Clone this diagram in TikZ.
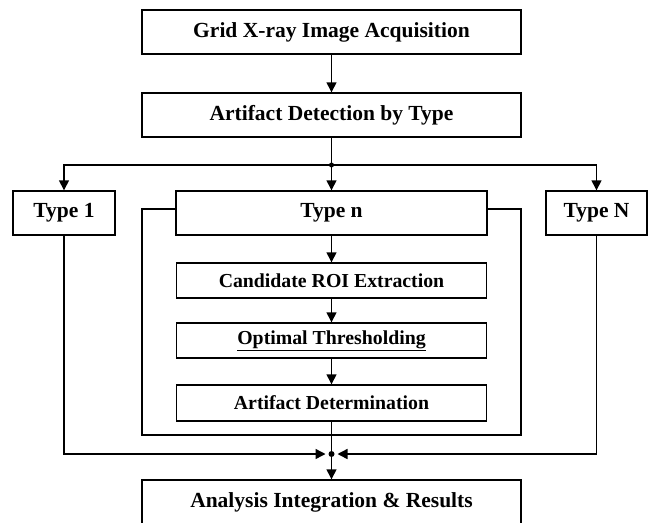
\documentclass[tikz,border=0pt]{standalone}
\usepackage{fontspec}
\setmainfont{Liberation Serif}
\usetikzlibrary{arrows.meta, calc}

\begin{document}
\begin{tikzpicture}[x=1pt, y=-1pt,
		box/.style={draw, line width=1.4pt, fill=white, minimum height=44pt, inner sep=0pt, font=\bfseries\fontsize{21.5}{24}\selectfont},
		stagebox/.style={draw, line width=1.4pt, fill=white, minimum width=310pt, minimum height=35pt, inner sep=0pt, font=\bfseries\fontsize{19.8}{22}\selectfont},
		link/.style={line width=1.4pt},
		flow/.style={-{Triangle[length=10pt,width=10pt]}, line width=1.4pt}]
		\useasboundingbox (0,0) rectangle (652,522);
		\clip (0,0) rectangle (652,522);
		\coordinate (split) at (331.5,165);
		\coordinate (merge) at (331.5,454);
		% main column
		\node[box, minimum width=379pt] (acq) at (331.5,32) {Grid X-ray Image Acquisition};
		\node[box, minimum width=379pt] (det) at (331.5,115) {Artifact Detection by Type};
		\node[box, minimum width=102pt] (t1) at (64,213) {Type 1};
		\draw[link] (142,209) rectangle (521,435);
		\node[box, minimum width=311pt] (tn) at (331.5,213) {Type n};
		\node[box, minimum width=101pt] (tN) at (596.5,213) {Type N};
		% inside type n
		\node[stagebox] (roi) at (331.5,280.5) {Candidate ROI Extraction};
		\node[stagebox] (thr) at (331.5,340.5) {\underline{Optimal Thresholding}};
		\node[stagebox, minimum height=36pt] (art) at (331.5,403) {Artifact Determination};
		\node[box, minimum width=379pt] (res) at (331.5,502) {Analysis Integration \& Results};
		% connectors
		\draw[flow] (acq) -- (det);
		\draw[link] (det) -- (split);
		\draw[flow] (split) -| (t1);
		\draw[flow] (split) -- (tn);
		\draw[flow] (split) -| (tN);
		\draw[flow] (tn) -- (roi);
		\draw[flow] (roi) -- (thr);
		\draw[flow] (thr) -- (art);
		\draw[link] (art) -- (merge);
		\draw[flow, shorten >=6pt] (t1) |- (merge);
		\draw[flow, shorten >=6pt] (tN) |- (merge);
		\draw[flow] (merge) -- (res);
		\fill (split) circle (2.5pt);
		\fill (merge) circle (3pt);
	\end{tikzpicture}
\end{document}
